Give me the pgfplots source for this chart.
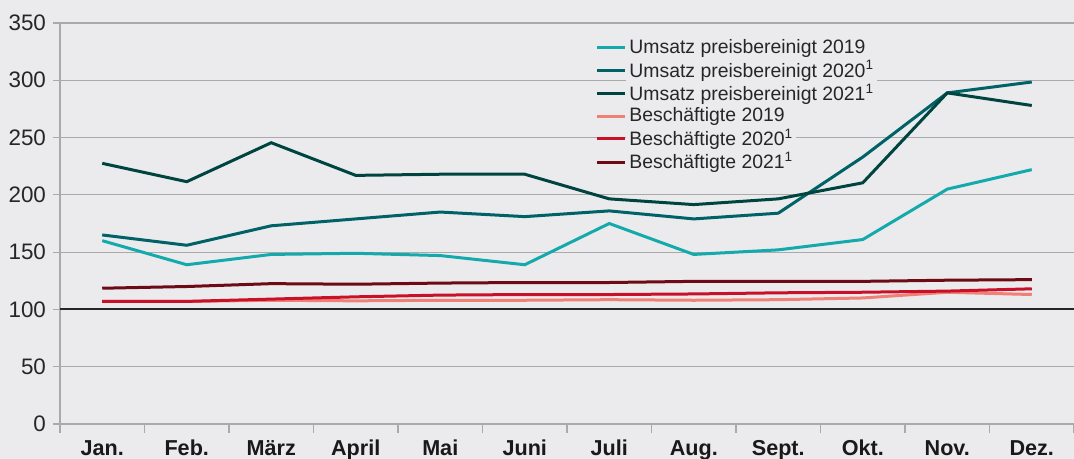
\documentclass[border=0pt]{standalone}
\usepackage{fontspec}
\setmainfont{Liberation Sans}
\usepackage{pgfplots}
\pgfplotsset{compat=1.18}
\definecolor{bgcol}{RGB}{235,235,238}
\definecolor{uA}{RGB}{20,170,172}
\definecolor{uB}{RGB}{0,98,102}
\definecolor{uC}{RGB}{0,68,64}
\definecolor{bA}{RGB}{240,128,118}
\definecolor{bB}{RGB}{200,16,40}
\definecolor{bC}{RGB}{110,10,22}
\definecolor{gridc}{RGB}{170,170,172}
\begin{document}
\begin{tikzpicture}
\path[fill=bgcol, use as bounding box] (-30pt,-17.5pt) rectangle (507pt,212pt);
\begin{axis}[
  scale only axis, width=507pt, height=200.5pt,
  at={(0,0)}, anchor=south west,
  xmin=-0.5, xmax=11.5, ymin=0, ymax=350,
  axis lines*=left,
  axis line style={gridc, line width=0.6pt},
  ytick={0,50,...,350},
  ymajorgrids,
  major grid style={gridc, line width=0.6pt},
  xtick={0,...,11},
  xticklabels={Jan.,Feb.,März,April,Mai,Juni,Juli,Aug.,Sept.,Okt.,Nov.,Dez.},
  minor xtick={-0.5,0.5,...,11.5},
  tick align=outside,
  major tick length=3.5pt,
  minor tick length=4.5pt,
  tick style={gridc, line width=0.6pt},
  major x tick style={draw=none},
  extra y ticks={100}, extra y tick labels={},
  extra y tick style={grid=major, major grid style={black!85, line width=1pt}, major tick length=0pt},
  /pgf/number format/assume math mode=true,
  y tick label style={font=\fontsize{11.2}{13}\selectfont, text=black!85},
  x tick label style={font=\fontsize{10.8}{12}\selectfont\bfseries, text=black!90, text height=8pt, text depth=0pt, anchor=north, yshift=-0.6pt},
  legend cell align=left,
  legend style={at={(0.5276,0.9675)}, anchor=north west, draw=none, fill=none,
    font=\fontsize{9.7}{11}\selectfont, text=black!85, row sep=-1.0pt,
    inner sep=0pt,
    nodes={inner sep=1.5pt, fill=bgcol},
    every odd column/.append style={inner xsep=7pt},
    every even column/.append style={inner xsep=3pt}},
  legend image code/.code={\draw[#1, line width=1.5pt] (0pt,0pt) -- (14pt,0pt);},
  every axis plot/.append style={line width=1.5pt},
]
\addplot[uA] coordinates {(0,160) (1,139) (2,148) (3,149) (4,147) (5,139) (6,175) (7,148) (8,152) (9,161) (10,205) (11,222)};
\addlegendentry{Umsatz preisbereinigt 2019}
\addplot[uB] coordinates {(0,165) (1,156) (2,173) (3,179) (4,185) (5,181) (6,186) (7,179) (8,184) (9,233) (10,289) (11,298.5)};
\addlegendentry{Umsatz preisbereinigt 2020\textsuperscript{1}}
\addplot[uC] coordinates {(0,227.5) (1,211.5) (2,245.5) (3,217) (4,218) (5,218) (6,196.5) (7,191.5) (8,196.5) (9,210.5) (10,289) (11,278)};
\addlegendentry{Umsatz preisbereinigt 2021\textsuperscript{1}}
\addplot[bA] coordinates {(0,107) (1,107) (2,108) (3,107.5) (4,108) (5,108) (6,108.5) (7,108) (8,108.5) (9,110) (10,115) (11,113)};
\addlegendentry{Beschäftigte 2019}
\addplot[bB] coordinates {(0,107) (1,107) (2,109) (3,111) (4,112.5) (5,113) (6,113) (7,113.5) (8,114.5) (9,115) (10,116) (11,118)};
\addlegendentry{Beschäftigte 2020\textsuperscript{1}}
\addplot[bC] coordinates {(0,118.5) (1,120) (2,122.5) (3,122) (4,123) (5,123.5) (6,123.5) (7,124.5) (8,124.5) (9,124.5) (10,125.5) (11,126)};
\addlegendentry{Beschäftigte 2021\textsuperscript{1}}
\end{axis}
\end{tikzpicture}
\end{document}
